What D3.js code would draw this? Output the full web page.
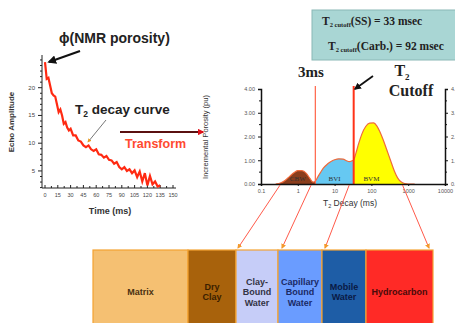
<!DOCTYPE html>
<html>
<head>
<meta charset="utf-8">
<script src="https://cdn.jsdelivr.net/npm/d3@7"></script>
<style>
  body { margin: 0; background: #fff; }
  svg { display: block; font-family: Arial, "Liberation Sans", sans-serif; }
  .serif { font-family: "Liberation Serif", "DejaVu Serif", serif; }
</style>
</head>
<body>
<div id="chart"></div>
<script>
// echo train (time ms, amplitude)
const echoTime = [0, 2, 4, 6, 8, 10, 12, 14, 16, 18, 20, 22, 24, 26, 28, 30, 33, 36, 39, 42, 45, 48, 51, 54, 57, 60, 63, 66, 69, 72, 75, 78, 81, 84, 87, 90, 93, 96, 99, 102, 105, 108, 111, 114, 117, 120, 123, 126, 129, 132, 135]
const echoAmp = [24.6, 21.6, 21.8, 20.4, 19.0, 18.6, 18.4, 17.0, 15.6, 16.1, 15.0, 13.5, 13.8, 12.8, 12.3, 12.6, 11.4, 11.4, 10.5, 10.3, 9.6, 9.3, 9.6, 8.9, 8.6, 8.9, 8.0, 7.9, 7.4, 7.7, 7.0, 6.9, 6.3, 6.6, 5.7, 5.3, 5.7, 5.0, 5.3, 4.6, 5.1, 3.9, 4.9, 3.1, 4.6, 2.4, 4.1, 2.6, 3.1, 2.2, 2.4]
const echoYTicks = [5, 10, 15, 20]
const echoXTicks = [0, 15, 30, 45, 60, 75, 90, 105, 120, 135, 150]

// T2 distribution (ms, pu)
const t2 = [0.25, 0.35, 0.45, 0.6, 0.8, 1.0, 1.3, 1.7, 2.1, 2.6, 3.0, 3.5, 4.2, 5, 6.5, 8, 10, 13, 17, 21, 25, 29, 33, 38, 45, 55, 70, 90, 115, 140, 170, 210, 260, 330, 420, 520, 650, 800, 1000, 1500]
const porosity = [0, 0.05, 0.15, 0.32, 0.48, 0.56, 0.56, 0.45, 0.25, 0.08, 0.12, 0.3, 0.5, 0.68, 0.85, 0.95, 1.02, 1.06, 1.05, 0.98, 0.94, 0.97, 1.02, 1.3, 1.7, 2.1, 2.42, 2.56, 2.57, 2.45, 2.2, 1.85, 1.45, 1.0, 0.55, 0.25, 0.08, 0.02, 0, 0]
const t2Ticks = [0.1, 1, 10, 100, 1000, 10000]
const puTicks = [0, 1, 2, 3, 4]
const bins = [
  {name: "CBW", from: 0.1, to: 3, color: "#8a3d1c", at: 1},
  {name: "BVI", from: 3, to: 33, color: "#66c8f2", at: 10},
  {name: "BVM", from: 33, to: 10000, color: "#ffff00", at: 100}
]
const cut3 = 3, cutSS = 33

// volume bar
const parts = ["Matrix", "Dry\nClay", "Clay-\nBound\nWater", "Capillary\nBound\nWater", "Mobile\nWater", "Hydrocarbon"]
const partWidth = [95, 48, 42, 44, 44, 67]
const partColor = ["#f5c072", "#a8620c", "#c6cdf8", "#6a9cff", "#1e5da6", "#ff2a26"]
const partText = ["#4a3010", "#3a1e00", "#333344", "#1a2a66", "#0a1a44", "#4a0a0a"]

const W = 455, H = 323
const svg = d3.select("#chart").append("svg").attr("width", W).attr("height", H)

// ---------- left panel: echo decay ----------
const ex = d3.scaleLinear().domain([0, 150]).range([45, 173])
const ey = d3.scaleLinear().domain([2, 26]).range([187.6, 54.4])
const left = svg.append("g")

left.append("line").attr("x1", 42).attr("x2", 42).attr("y1", 55).attr("y2", 188).attr("stroke", "#222")
left.append("line").attr("x1", 42).attr("x2", 176).attr("y1", 188).attr("y2", 188).attr("stroke", "#222")
left.selectAll(".ymin").data(d3.range(2, 26, 1)).join("line")
  .attr("x1", 42).attr("x2", d => echoYTicks.includes(d) ? 38 : 40)
  .attr("y1", d => ey(d)).attr("y2", d => ey(d)).attr("stroke", "#222")
left.selectAll(".ylab").data(echoYTicks).join("text")
  .attr("x", 35).attr("y", d => ey(d) + 2).attr("text-anchor", "end")
  .attr("font-size", 6).attr("fill", "#444").text(d => d)
left.selectAll(".xmin").data(d3.range(0, 151, 7.5)).join("line")
  .attr("x1", d => ex(d)).attr("x2", d => ex(d))
  .attr("y1", 188).attr("y2", (d, i) => i % 2 ? 186 : 185).attr("stroke", "#222")
left.selectAll(".xlab").data(echoXTicks).join("text")
  .attr("x", d => ex(d)).attr("y", 197).attr("text-anchor", "middle")
  .attr("font-size", 5.5).attr("fill", "#444").text(d => d)
left.append("text").attr("x", 110).attr("y", 214).attr("text-anchor", "middle")
  .attr("font-size", 9).attr("font-weight", "bold").attr("fill", "#333").text("Time (ms)")
left.append("text").attr("transform", "translate(14,122) rotate(-90)").attr("text-anchor", "middle")
  .attr("font-size", 8).attr("font-weight", "bold").attr("fill", "#333").text("Echo Amplitude")

left.append("path").datum(d3.zip(echoTime, echoAmp))
  .attr("d", d3.line().x(d => ex(d[0])).y(d => ey(d[1])))
  .attr("fill", "none").attr("stroke", "#ff2a12").attr("stroke-width", 2.2)

const defs = svg.append("defs")
function marker(id, color, size) {
  defs.append("marker").attr("id", id).attr("viewBox", "0 0 10 10")
    .attr("refX", 8).attr("refY", 5).attr("markerWidth", size).attr("markerHeight", size)
    .attr("orient", "auto").append("path").attr("d", "M0,0L10,5L0,10z").attr("fill", color)
}
marker("blk", "#111", 4)
marker("org", "#e89a20", 4)
marker("red", "#e0101a", 3)
marker("lnk", "#f39a2c", 5)

left.append("text").attr("x", 59).attr("y", 43).attr("font-size", 14).attr("font-weight", "bold")
  .attr("fill", "#222").text("ϕ(NMR porosity)")
left.append("line").attr("x1", 80).attr("y1", 51).attr("x2", 49).attr("y2", 62)
  .attr("stroke", "#111").attr("stroke-width", 2.2).attr("marker-end", "url(#blk)")

const dec = left.append("text").attr("x", 75).attr("y", 114).attr("font-size", 13.5)
  .attr("font-weight", "bold").attr("fill", "#222")
dec.append("tspan").text("T")
dec.append("tspan").attr("font-size", 8.5).attr("dy", 3).text("2")
dec.append("tspan").attr("dy", -3).text(" decay curve")
left.append("line").attr("x1", 106).attr("y1", 120).attr("x2", 88).attr("y2", 142)
  .attr("stroke", "#777").attr("stroke-width", 1).attr("marker-end", "url(#org)")

left.append("line").attr("x1", 120).attr("y1", 132).attr("x2", 203).attr("y2", 132)
  .attr("stroke", "#5a1010").attr("stroke-width", 2.2).attr("marker-end", "url(#red)")
left.append("text").attr("x", 125).attr("y", 148).attr("font-size", 12.5).attr("font-weight", "bold")
  .attr("fill", "#ff4a30").text("Transform")

// ---------- right panel: T2 distribution ----------
const tx = d3.scaleLog().domain([0.1, 10000]).range([261, 445])
const ty = d3.scaleLinear().domain([0, 4]).range([184, 89])
const right = svg.append("g")

const box = right.append("g")
box.append("rect").attr("x", 312).attr("y", 10).attr("width", 150).attr("height", 50)
  .attr("fill", "#a9d6d4").attr("stroke", "#8ab8b6")
function boxLine(x, y, tag, val) {
  const t = box.append("text").attr("class", "serif").attr("x", x).attr("y", y)
    .attr("font-size", 11.5).attr("font-weight", "bold").attr("fill", "#222")
  t.append("tspan").text("T")
  t.append("tspan").attr("font-size", 6.5).attr("dy", 2).text("2 cutoff")
  t.append("tspan").attr("dy", -2).text(tag + " = " + val + " msec")
}
boxLine(322, 25, "(SS)", 33)
boxLine(328, 50, "(Carb.)", 92)

const area = d3.area().x(d => tx(d[0])).y0(ty(0)).y1(d => ty(d[1])).curve(d3.curveMonotoneX)
const pts = d3.zip(t2, porosity)
bins.forEach((b, i) => {
  defs.append("clipPath").attr("id", "bin" + i).append("rect")
    .attr("x", tx(b.from)).attr("width", tx(b.to) - tx(b.from)).attr("y", 80).attr("height", 110)
  right.append("path").datum(pts).attr("d", area).attr("fill", b.color)
    .attr("clip-path", `url(#bin${i})`)
})
right.append("path").datum(pts)
  .attr("d", d3.line().x(d => tx(d[0])).y(d => ty(d[1])).curve(d3.curveMonotoneX))
  .attr("fill", "none").attr("stroke", "#f06a3a").attr("stroke-width", 1.2)
right.selectAll(".bin").data(bins).join("text").attr("class", "serif")
  .attr("x", d => tx(d.at)).attr("y", 181).attr("text-anchor", "middle")
  .attr("font-size", 7).attr("fill", "#333").text(d => d.name)

right.append("line").attr("x1", tx(cut3)).attr("x2", tx(cut3)).attr("y1", 86).attr("y2", 184)
  .attr("stroke", "#ff6e54").attr("stroke-width", 1.3)
right.append("line").attr("x1", tx(cutSS)).attr("x2", tx(cutSS)).attr("y1", 86).attr("y2", 184)
  .attr("stroke", "#ff3218").attr("stroke-width", 2)

const yAxis = d3.axisLeft(ty).tickValues(puTicks).tickFormat(d3.format(".2f")).tickSize(3)
const yAxisR = d3.axisRight(ty).tickValues(puTicks).tickFormat(d3.format(".2f")).tickSize(3)
const xAxis = d3.axisBottom(tx).tickValues(t2Ticks).tickFormat(d => d).tickSize(2)
function styleAxis(g) {
  g.select(".domain").attr("stroke", "#111").attr("stroke-width", 1.5)
  g.selectAll(".tick line").attr("stroke", "#111")
  g.selectAll("text").attr("font-size", 5.5).attr("fill", "#555")
}
right.append("g").attr("transform", "translate(261,0)").call(yAxis).call(styleAxis)
right.append("g").attr("transform", "translate(445,0)").call(yAxisR).call(styleAxis)
right.append("g").attr("transform", "translate(0,184)").call(xAxis).call(styleAxis)
const minorY = d3.range(0.5, 4, 1)
right.selectAll(".ym").data(minorY).join("line").attr("x1", 261).attr("x2", 259)
  .attr("y1", d => ty(d)).attr("y2", d => ty(d)).attr("stroke", "#111")
right.selectAll(".ymr").data(minorY).join("line").attr("x1", 445).attr("x2", 447)
  .attr("y1", d => ty(d)).attr("y2", d => ty(d)).attr("stroke", "#111")

right.append("text").attr("transform", "translate(208,137) rotate(-90)").attr("text-anchor", "middle")
  .attr("font-size", 7.5).attr("fill", "#333").text("Incremental Porosity (pu)")
const xl = right.append("text").attr("x", 350).attr("y", 206).attr("text-anchor", "middle")
  .attr("font-size", 8.5).attr("fill", "#333")
xl.append("tspan").text("T")
xl.append("tspan").attr("font-size", 5.5).attr("dy", 2).text("2")
xl.append("tspan").attr("dy", -2).text(" Decay (ms)")

right.append("text").attr("class", "serif").attr("x", 311).attr("y", 77).attr("text-anchor", "middle")
  .attr("font-size", 15).attr("font-weight", "bold").attr("fill", "#222").text("3ms")
const tc = right.append("text").attr("class", "serif").attr("x", 402).attr("y", 76)
  .attr("text-anchor", "middle").attr("font-size", 16).attr("font-weight", "bold").attr("fill", "#222")
tc.append("tspan").text("T")
tc.append("tspan").attr("font-size", 9).attr("dy", 4).text("2")
right.append("text").attr("class", "serif").attr("x", 411).attr("y", 96).attr("text-anchor", "middle")
  .attr("font-size", 16).attr("font-weight", "bold").attr("fill", "#222").text("Cutoff")
right.append("line").attr("x1", 373).attr("y1", 76).attr("x2", 355).attr("y2", 89)
  .attr("stroke", "#111").attr("stroke-width", 1.8).attr("marker-end", "url(#blk)")

// ---------- bottom: volume model ----------
const edges = d3.cumsum([93].concat(partWidth))
const barTop = 250, barH = 80
const bar = svg.append("g")
bar.selectAll("rect").data(parts).join("rect")
  .attr("x", (d, i) => edges[i]).attr("y", barTop)
  .attr("width", (d, i) => partWidth[i]).attr("height", barH)
  .attr("fill", (d, i) => partColor[i]).attr("stroke", "#f4a233").attr("stroke-width", 1.2)
bar.selectAll("text").data(parts).join("text")
  .attr("text-anchor", "middle").attr("font-size", 9).attr("font-weight", "bold")
  .attr("fill", (d, i) => partText[i])
  .each(function (d, i) {
    const lines = d.split("\n")
    const cx = edges[i] + partWidth[i] / 2
    d3.select(this).selectAll("tspan").data(lines).join("tspan")
      .attr("x", cx).attr("y", (l, j) => 295 + (j - (lines.length - 1) / 2) * 10.5)
      .text(l => l)
  })

// links from T2 bins down to the volume bar
const links = [
  {from: 0.33, to: edges[2] + 2},
  {from: 2.3, to: edges[3] + 4},
  {from: 25, to: edges[4] + 3},
  {from: 700, to: edges[6] - 4}
]
svg.append("g").selectAll("line").data(links).join("line")
  .attr("x1", d => tx(d.from)).attr("y1", 185).attr("x2", d => d.to).attr("y2", barTop - 2)
  .attr("stroke", "#ff5a4a").attr("stroke-width", 1).attr("marker-end", "url(#lnk)")
</script>
</body>
</html>
